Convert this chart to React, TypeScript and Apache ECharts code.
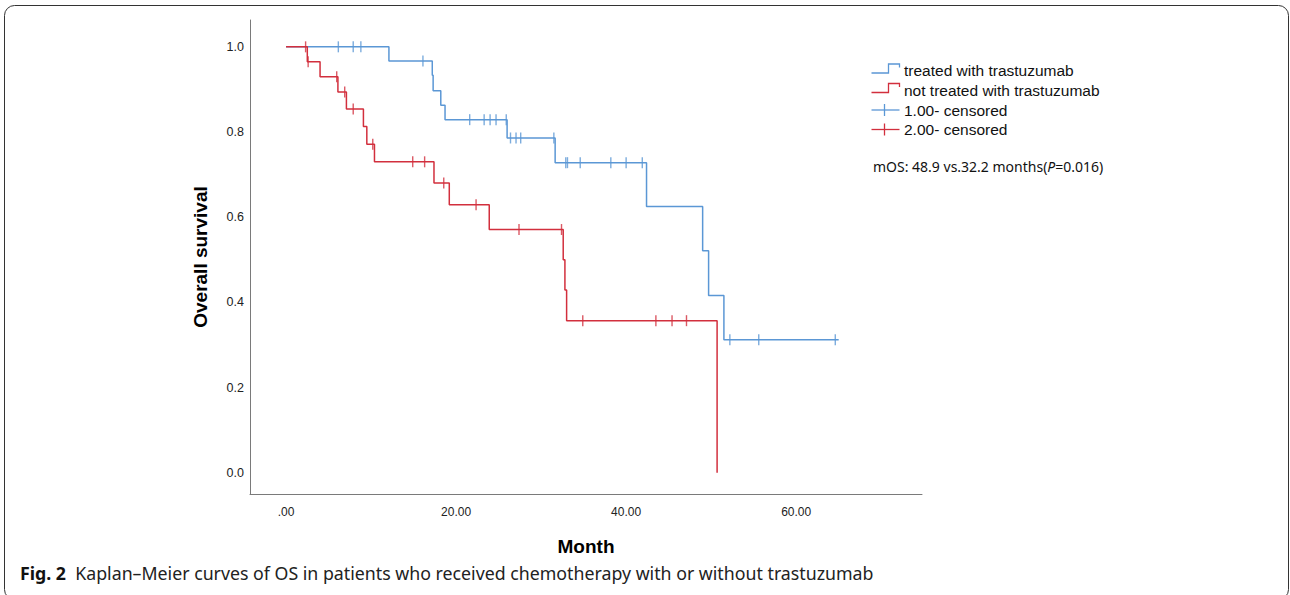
import React, { useEffect, useRef } from "react";
import * as echarts from "echarts";

// Kaplan–Meier step points [month, survival]
const treatedSteps: [number, number][] = [
  [0, 1.0], [12.1, 0.967], [17.2, 0.933], [17.3, 0.897], [18.2, 0.863], [18.7, 0.829],
  [26.0, 0.786], [31.65, 0.728], [42.4, 0.625], [49.0, 0.521], [49.7, 0.416], [51.5, 0.312],
  [65.0, 0.312],
];
const notTreatedSteps: [number, number][] = [
  [0, 1.0], [2.5, 0.965], [4.0, 0.93], [6.1, 0.894], [7.1, 0.854], [9.1, 0.813], [9.5, 0.771],
  [10.4, 0.73], [17.4, 0.68], [19.2, 0.629], [23.9, 0.571], [32.6, 0.5], [32.8, 0.429],
  [33.0, 0.357], [50.7, 0.0],
];
// censored observations [month, survival]
const treatedCensored: [number, number][] = [
  [6.15, 1.0], [7.9, 1.0], [8.8, 1.0], [16.1, 0.967],
  [21.6, 0.829], [23.3, 0.829], [24.0, 0.829], [24.7, 0.829], [25.9, 0.829],
  [26.4, 0.786], [27.05, 0.786], [27.6, 0.786], [31.5, 0.786],
  [32.9, 0.728], [33.1, 0.728], [34.6, 0.728], [38.2, 0.728], [40.0, 0.728], [41.9, 0.728],
  [52.2, 0.312], [55.6, 0.312], [64.6, 0.312],
];
const notTreatedCensored: [number, number][] = [
  [2.3, 1.0], [2.6, 0.965], [5.96, 0.93], [6.9, 0.894], [7.9, 0.854], [10.2, 0.771],
  [14.9, 0.73], [16.3, 0.73], [18.55, 0.68], [22.35, 0.629], [27.4, 0.571], [32.4, 0.571],
  [34.9, 0.357], [43.5, 0.357], [45.4, 0.357], [47.1, 0.357],
];
const xTicks = [0, 20, 40, 60];
const yTicks = [0, 0.2, 0.4, 0.6, 0.8, 1.0];
const legendLabels = [
  "treated with trastuzumab",
  "not treated with trastuzumab",
  "1.00- censored",
  "2.00- censored",
];
const annotation = "mOS: 48.9 vs.32.2 months(";
const captionBold = "Fig. 2";
const captionText = "Kaplan–Meier curves of OS in patients who received chemotherapy with or without trastuzumab";

const BLUE = "#5b97d5";
const RED = "#d22f3d";

export default function App() {
  const ref = useRef<HTMLDivElement>(null);
  useEffect(() => {
    if (!ref.current) return;
    const chart = echarts.init(ref.current, null, { renderer: "svg" });
    const legendText = {
      fontFamily: "Liberation Sans, Arial, sans-serif",
      fontSize: 15.5,
      fill: "#111",
      verticalAlign: "middle" as const,
    };
    const stepIcon = (y: number, color: string) => ({
      type: "polyline",
      shape: {
        points: [[871.5, y + 2.5], [888.5, y + 2.5], [888.5, y - 6.5], [899.5, y - 6.5], [899.5, y - 3]],
      },
      style: { stroke: color, lineWidth: 1.3, fill: "none" },
    });
    const plusIcon = (y: number, color: string) => ({
      type: "group",
      children: [
        { type: "line", shape: { x1: 871.5, y1: y, x2: 899.5, y2: y }, style: { stroke: color, lineWidth: 1.3 } },
        { type: "line", shape: { x1: 884.5, y1: y - 6, x2: 884.5, y2: y + 6 }, style: { stroke: color, lineWidth: 1.3 } },
      ],
    });
    chart.setOption({
      animation: false,
      backgroundColor: "#fff",
      grid: { left: 250, right: 368, top: 20, bottom: 101, containLabel: false },
      xAxis: {
        type: "value",
        min: -4.24,
        max: 74.8,
        name: "Month",
        nameLocation: "middle",
        nameGap: 43,
        nameTextStyle: { fontFamily: "Liberation Sans, Arial, sans-serif", fontSize: 19, fontWeight: "bold", color: "#000" },
        axisLine: { show: true, onZero: false, lineStyle: { color: "#7a7a7a", width: 1 } },
        axisTick: { show: false },
        splitLine: { show: false },
        axisLabel: {
          customValues: xTicks,
          margin: 12,
          fontFamily: "Liberation Sans, Arial, sans-serif",
          fontSize: 12,
          color: "#222",
          formatter: (v: number) => (v === 0 ? ".00" : v.toFixed(2)),
        },
      },
      yAxis: {
        type: "value",
        min: -0.05,
        max: 1.063,
        name: "Overall survival",
        nameLocation: "middle",
        nameGap: 40,
        nameTextStyle: { fontFamily: "Liberation Sans, Arial, sans-serif", fontSize: 19, fontWeight: "bold", color: "#000" },
        axisLine: { show: true, onZero: false, lineStyle: { color: "#7a7a7a", width: 1 } },
        axisTick: { show: false },
        splitLine: { show: false },
        axisLabel: {
          customValues: yTicks,
          margin: 6,
          fontFamily: "Liberation Sans, Arial, sans-serif",
          fontSize: 12.5,
          color: "#222",
          formatter: (v: number) => v.toFixed(1),
        },
      },
      series: [
        {
          name: legendLabels[0],
          type: "line",
          step: "end",
          data: treatedSteps,
          showSymbol: false,
          symbol: "none",
          lineStyle: { color: BLUE, width: 1.5 },
          z: 3,
        },
        {
          name: legendLabels[1],
          type: "line",
          step: "end",
          data: notTreatedSteps,
          showSymbol: false,
          symbol: "none",
          lineStyle: { color: RED, width: 1.5 },
          z: 3,
        },
        {
          name: legendLabels[2],
          type: "scatter",
          data: treatedCensored,
          symbol: "rect",
          symbolSize: [1.4, 11],
          itemStyle: { color: BLUE },
          z: 4,
        },
        {
          name: legendLabels[3],
          type: "scatter",
          data: notTreatedCensored,
          symbol: "rect",
          symbolSize: [1.4, 11],
          itemStyle: { color: RED },
          z: 4,
        },
      ],
      graphic: [
        {
          type: "rect",
          shape: { x: 4.5, y: 5.5, width: 1284, height: 594, r: 10 },
          style: { fill: "none", stroke: "#333", lineWidth: 1 },
          silent: true,
        },
        stepIcon(70.5, BLUE),
        stepIcon(90, RED),
        plusIcon(110, BLUE),
        plusIcon(129.5, RED),
        { type: "text", x: 904, y: 70.5, style: { ...legendText, text: legendLabels[0] } },
        { type: "text", x: 904, y: 90, style: { ...legendText, text: legendLabels[1] } },
        { type: "text", x: 904, y: 110, style: { ...legendText, text: legendLabels[2] } },
        { type: "text", x: 904, y: 129.5, style: { ...legendText, text: legendLabels[3] } },
        {
          type: "text",
          x: 873,
          y: 166,
          style: {
            text: `{n|${annotation}}{i|P}{n|=0.016)}`,
            verticalAlign: "middle",
            rich: {
              n: { fontFamily: "Noto Sans, sans-serif", fontSize: 14, fill: "#111" },
              i: { fontFamily: "Noto Sans, sans-serif", fontSize: 14, fontStyle: "italic", fill: "#111" },
            },
          },
        },
        {
          type: "text",
          x: 20,
          y: 573,
          style: {
            text: `{b|${captionBold}}{r|  ${captionText}}`,
            verticalAlign: "middle",
            rich: {
              b: { fontFamily: "Noto Sans, sans-serif", fontSize: 17.75, fontWeight: "bold", fill: "#111" },
              r: { fontFamily: "Noto Sans, sans-serif", fontSize: 17.75, fill: "#222" },
            },
          },
        },
      ],
    });
    return () => chart.dispose();
  }, []);
  return <div ref={ref} style={{ width: 1290, height: 595, position: "absolute", left: 0, top: 0 }} />;
}
